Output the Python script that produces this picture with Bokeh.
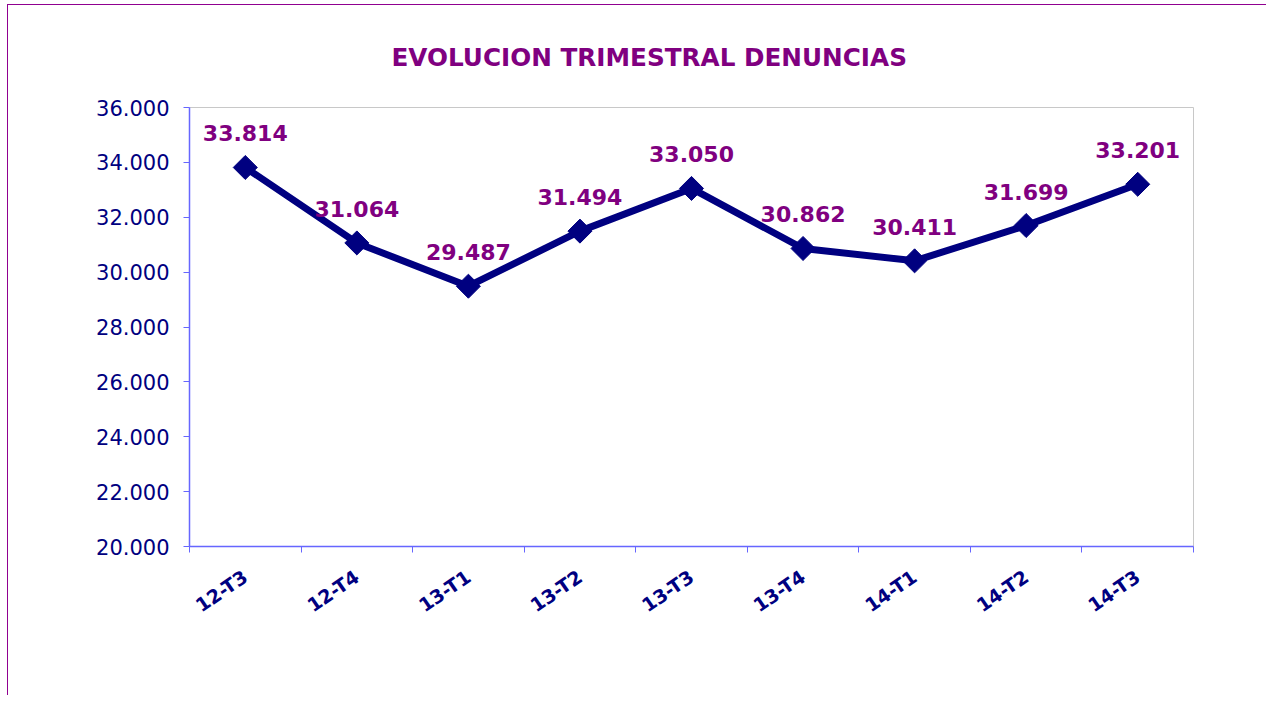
import math
from bokeh.plotting import figure
from bokeh.models import FixedTicker, ColumnDataSource, Title
from bokeh.embed import file_html
from bokeh.resources import INLINE

categories = ["12-T3", "12-T4", "13-T1", "13-T2", "13-T3", "13-T4", "14-T1", "14-T2", "14-T3"]
values = [33814, 31064, 29487, 31494, 33050, 30862, 30411, 31699, 33201]
y_ticks = [20000, 22000, 24000, 26000, 28000, 30000, 32000, 34000, 36000]
title_text = "EVOLUCION TRIMESTRAL DENUNCIAS"

def fmt(v):
    return f"{v:,}".replace(",", ".")

NAVY = "#000080"
PURPLE = "#800080"
AXIS = "#6666ff"
FONT = "DejaVu Sans"
W, H = 1266, 695

xs = [i + 0.5 for i in range(len(categories))]
src = ColumnDataSource(dict(x=xs, y=values, lab=[fmt(v) for v in values]))

p = figure(width=W, height=H, output_backend="svg", toolbar_location=None,
           x_range=(0, len(categories)), y_range=(20000, 36000),
           min_border_left=189, min_border_right=73, min_border_top=107, min_border_bottom=149)
p.styles = {"box-shadow": "inset 7px 4px 0 0 white, inset 8px 5px 0 0 #900090"}
p.background_fill_color = "white"
p.border_fill_alpha = 0
p.outline_line_color = "#c8c8c8"
p.outline_line_width = 1
p.xgrid.visible = False
p.ygrid.visible = False

t = Title(text=title_text, align="left", offset=202, text_color=PURPLE,
          text_font=FONT, text_font_size="24.7px", text_font_style="bold", standoff=72)
p.add_layout(t, "above")

# y axis
p.yaxis.ticker = FixedTicker(ticks=y_ticks, minor_ticks=[])
p.yaxis.major_label_overrides = {v: fmt(v) for v in y_ticks}
p.yaxis.axis_line_color = AXIS
p.yaxis.axis_line_width = 1.5
p.yaxis.major_tick_line_color = AXIS
p.yaxis.major_tick_out = 6
p.yaxis.major_tick_in = 0
p.yaxis.major_label_text_color = NAVY
p.yaxis.major_label_text_font = FONT
p.yaxis.major_label_text_font_size = "21px"
p.yaxis.major_label_standoff = 14

# x axis
p.xaxis.ticker = FixedTicker(ticks=xs, minor_ticks=list(range(len(categories) + 1)))
p.xaxis.major_label_overrides = {x: c for x, c in zip(xs, categories)}
p.xaxis.axis_line_color = AXIS
p.xaxis.axis_line_width = 1.5
p.xaxis.major_tick_out = 0
p.xaxis.major_tick_in = 0
p.xaxis.minor_tick_line_color = AXIS
p.xaxis.minor_tick_out = 6
p.xaxis.minor_tick_in = 0
p.xaxis.major_label_orientation = 0.6
p.xaxis.major_label_text_color = NAVY
p.xaxis.major_label_text_font = FONT
p.xaxis.major_label_text_font_size = "19px"
p.xaxis.major_label_text_font_style = "bold"
p.xaxis.major_label_standoff = 22

p.line("x", "y", source=src, line_color=NAVY, line_width=7)
p.scatter("x", "y", source=src, marker="square", size=17, angle=math.pi / 4,
          fill_color=NAVY, line_color=NAVY)
p.text("x", "y", text="lab", source=src, text_align="center", text_baseline="middle",
       y_offset=-34, text_color=PURPLE, text_font_size="22px", text_font_style="bold",
       text_font={"value": FONT})

open("out.html", "w").write(file_html(p, INLINE))
